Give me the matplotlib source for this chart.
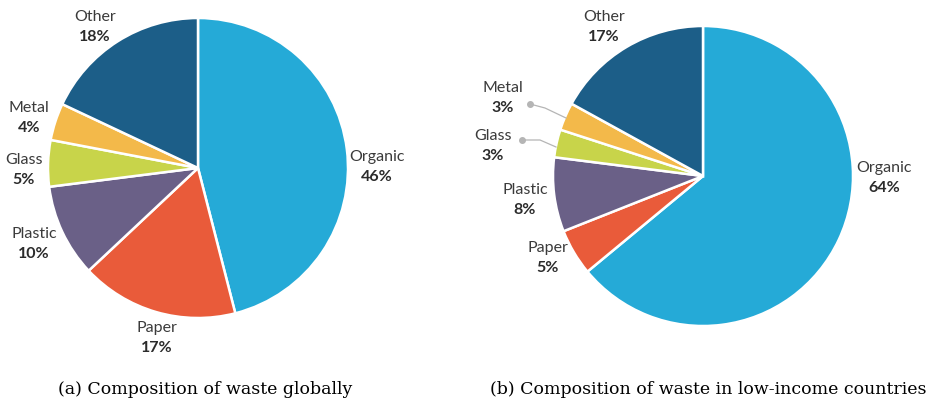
import matplotlib
matplotlib.use("Agg")
import matplotlib.pyplot as plt

# --- data ---
categories = ["Organic", "Paper", "Plastic", "Glass", "Metal", "Other"]
global_share = [46, 17, 10, 5, 4, 18]
low_income_share = [64, 5, 8, 3, 3, 17]
colors = ["#25AAD7", "#E95B3A", "#6A6087", "#C8D44A", "#F3B94A", "#1C5E88"]
captions = ["(a) Composition of waste globally",
            "(b) Composition of waste in low-income countries"]

label_font = ["Lato", "DejaVu Sans"]

W, H = 931, 405
fig = plt.figure(figsize=(W / 100, H / 100), dpi=100)
ax = fig.add_axes([0, 0, 1, 1])

# pie layout in pixel space (y down); label anchors are the midpoint between the two lines
pies = [
    dict(values=global_share, center=(198, 168),
         labels={"Organic": (377, 167), "Paper": (157, 338), "Plastic": (34, 244),
                 "Glass": (24, 170), "Metal": (29, 118), "Other": (95, 27)}),
    dict(values=low_income_share, center=(703, 176),
         labels={"Organic": (884, 178), "Paper": (548, 258), "Plastic": (525, 200),
                 "Glass": (493, 146), "Metal": (503, 98), "Other": (604, 27)}),
]

for p in pies:
    # y axis gets inverted below -> counterclock=True reads clockwise on screen
    ax.pie(p["values"], colors=colors, center=p["center"], radius=150,
           startangle=-90, counterclock=True,
           wedgeprops=dict(edgecolor="white", linewidth=1.8))
    for cat, val in zip(categories, p["values"]):
        x, y = p["labels"][cat]
        ax.text(x, y - 10, cat, ha="center", va="center", fontsize=11.5,
                family=label_font, color="#3b3b3b")
        ax.text(x, y + 10, f"{val}%", ha="center", va="center", fontsize=11.5,
                family=label_font, fontweight="bold", color="#2b2b2b")

# leader lines for the small slices in (b)
ax.plot([530, 545, 566], [104, 108, 118], color="#b5b5b5", lw=0.9)
ax.plot([522, 540, 556], [140, 140, 147], color="#b5b5b5", lw=0.9)
ax.plot([530, 522], [104, 140], "o", color="#b5b5b5", ms=4)

ax.set_xlim(0, W)
ax.set_ylim(H, 0)
ax.set_aspect("equal")
ax.axis("off")

ax.text(205, 390, captions[0], ha="center", va="center", fontsize=12.5,
        family="DejaVu Serif", color="black")
ax.text(708, 390, captions[1], ha="center", va="center", fontsize=12.5,
        family="DejaVu Serif", color="black")

fig.savefig("out.png", dpi=100, facecolor="white")
